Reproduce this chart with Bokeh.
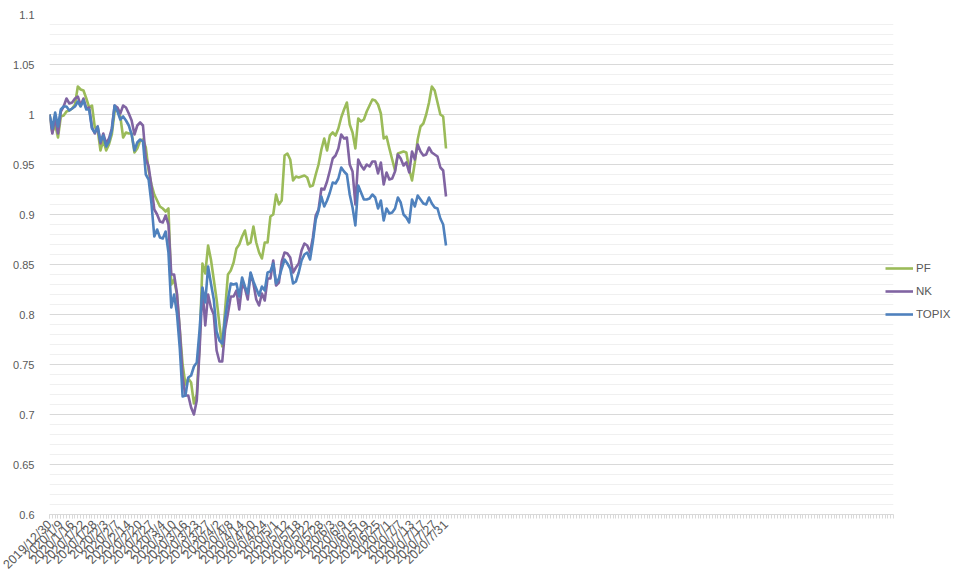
from bokeh.plotting import figure
from bokeh.models import Range1d, FixedTicker, Legend, LegendItem
from bokeh.embed import file_html
from bokeh.resources import INLINE

dates = [
    "2019/12/30",
    "2020/1/6", "2020/1/7", "2020/1/8", "2020/1/9", "2020/1/10", "2020/1/14", "2020/1/15",
    "2020/1/16", "2020/1/17", "2020/1/20", "2020/1/21", "2020/1/22", "2020/1/23", "2020/1/24",
    "2020/1/27", "2020/1/28", "2020/1/29", "2020/1/30", "2020/1/31",
    "2020/2/3", "2020/2/4", "2020/2/5", "2020/2/6", "2020/2/7", "2020/2/10", "2020/2/12",
    "2020/2/13", "2020/2/14", "2020/2/17", "2020/2/18", "2020/2/19", "2020/2/20", "2020/2/21",
    "2020/2/25", "2020/2/26", "2020/2/27", "2020/2/28",
    "2020/3/2", "2020/3/3", "2020/3/4", "2020/3/5", "2020/3/6", "2020/3/9", "2020/3/10",
    "2020/3/11", "2020/3/12", "2020/3/13", "2020/3/16", "2020/3/17", "2020/3/18", "2020/3/19",
    "2020/3/23", "2020/3/24", "2020/3/25", "2020/3/26", "2020/3/27", "2020/3/30", "2020/3/31",
    "2020/4/1", "2020/4/2", "2020/4/3", "2020/4/6", "2020/4/7", "2020/4/8", "2020/4/9",
    "2020/4/10", "2020/4/13", "2020/4/14", "2020/4/15", "2020/4/16", "2020/4/17", "2020/4/20",
    "2020/4/21", "2020/4/22", "2020/4/23", "2020/4/24", "2020/4/27", "2020/4/28", "2020/4/30",
    "2020/5/1", "2020/5/7", "2020/5/8", "2020/5/11", "2020/5/12", "2020/5/13", "2020/5/14",
    "2020/5/15", "2020/5/18", "2020/5/19", "2020/5/20", "2020/5/21", "2020/5/22", "2020/5/25",
    "2020/5/26", "2020/5/27", "2020/5/28", "2020/5/29",
    "2020/6/1", "2020/6/2", "2020/6/3", "2020/6/4", "2020/6/5", "2020/6/8", "2020/6/9",
    "2020/6/10", "2020/6/11", "2020/6/12", "2020/6/15", "2020/6/16", "2020/6/17", "2020/6/18",
    "2020/6/19", "2020/6/22", "2020/6/23", "2020/6/24", "2020/6/25", "2020/6/26", "2020/6/29",
    "2020/6/30",
    "2020/7/1", "2020/7/2", "2020/7/3", "2020/7/6", "2020/7/7", "2020/7/8", "2020/7/9",
    "2020/7/10", "2020/7/13", "2020/7/14", "2020/7/15", "2020/7/16", "2020/7/17", "2020/7/20",
    "2020/7/21", "2020/7/22", "2020/7/27", "2020/7/28", "2020/7/29", "2020/7/30", "2020/7/31",
]

pf = [
    1.000, 0.982, 0.990, 0.977, 0.998, 0.999, 1.003, 1.004, 1.006, 1.010,
    1.028, 1.025, 1.024, 1.016, 1.007, 1.009, 0.987, 0.985, 0.964, 0.974,
    0.964, 0.970, 0.980, 1.003, 1.005, 0.998, 0.977, 0.982, 0.981, 0.981,
    0.962, 0.966, 0.974, 0.975, 0.967, 0.944, 0.930, 0.920, 0.914, 0.908,
    0.906, 0.903, 0.906, 0.830, 0.835, 0.820, 0.785, 0.750, 0.730, 0.736,
    0.732, 0.711, 0.720, 0.770, 0.851, 0.841, 0.869, 0.855, 0.835, 0.815,
    0.790, 0.768, 0.805, 0.840, 0.844, 0.852, 0.866, 0.870, 0.878, 0.884,
    0.870, 0.872, 0.888, 0.872, 0.862, 0.856, 0.872, 0.872, 0.898, 0.900,
    0.920, 0.910, 0.914, 0.959, 0.961, 0.955, 0.934, 0.938, 0.937, 0.938,
    0.939, 0.937, 0.928, 0.929, 0.940, 0.950, 0.965, 0.976, 0.964, 0.979,
    0.982, 0.979, 0.986, 0.997, 1.005, 1.012, 0.990, 0.982, 0.966, 0.996,
    0.993, 0.995, 1.003, 1.009, 1.015, 1.014, 1.010, 1.001, 0.976, 0.978,
    0.966, 0.955, 0.944, 0.961, 0.962, 0.963, 0.962, 0.945, 0.934, 0.952,
    0.975, 0.988, 0.991, 1.000, 1.012, 1.028, 1.024, 1.012, 1.000, 0.998,
    0.966,
]

nk = [
    1.000, 0.981, 0.997, 0.981, 1.003, 1.008, 1.016, 1.011, 1.012, 1.016,
    1.018, 1.009, 1.016, 1.006, 1.007, 0.987, 0.981, 0.988, 0.971, 0.981,
    0.971, 0.976, 0.986, 1.009, 1.007, 1.001, 1.009, 1.007, 1.001, 0.994,
    0.980, 0.989, 0.992, 0.989, 0.956, 0.948, 0.928, 0.905, 0.900, 0.893,
    0.892, 0.899, 0.890, 0.840, 0.840, 0.821, 0.785, 0.737, 0.719, 0.719,
    0.707, 0.700, 0.714, 0.765, 0.826, 0.789, 0.820, 0.807, 0.800, 0.764,
    0.753, 0.753, 0.785, 0.801, 0.818, 0.818, 0.824, 0.805, 0.830, 0.826,
    0.815, 0.841, 0.831, 0.815, 0.809, 0.821, 0.814, 0.836, 0.836, 0.854,
    0.829, 0.832, 0.853, 0.862, 0.861, 0.857, 0.842, 0.847, 0.851, 0.864,
    0.871, 0.869, 0.862, 0.877, 0.899, 0.905, 0.926, 0.925, 0.933, 0.944,
    0.956, 0.959, 0.966, 0.980, 0.976, 0.977, 0.950, 0.943, 0.910, 0.955,
    0.949, 0.945, 0.950, 0.948, 0.953, 0.953, 0.941, 0.952, 0.930, 0.942,
    0.935, 0.936, 0.943, 0.960, 0.956, 0.949, 0.952, 0.942, 0.963, 0.955,
    0.970, 0.963, 0.959, 0.960, 0.967, 0.962, 0.960, 0.958, 0.947, 0.944,
    0.918,
]

topix = [
    1.000, 0.986, 1.002, 0.988, 1.005, 1.008, 1.008, 1.004, 1.006, 1.008,
    1.013, 1.008, 1.014, 1.005, 1.005, 0.986, 0.982, 0.988, 0.973, 0.979,
    0.968, 0.973, 0.984, 1.009, 1.003, 0.995, 0.998, 0.994, 0.989, 0.980,
    0.964, 0.972, 0.975, 0.973, 0.940, 0.935, 0.911, 0.878, 0.885, 0.877,
    0.876, 0.883, 0.862, 0.807, 0.820, 0.801, 0.766, 0.718, 0.719, 0.737,
    0.739, 0.748, 0.752, 0.785, 0.827, 0.812, 0.848, 0.831, 0.815, 0.783,
    0.774, 0.771, 0.796, 0.815, 0.831, 0.830, 0.831, 0.818, 0.837, 0.828,
    0.821, 0.842, 0.833, 0.826, 0.819, 0.828, 0.824, 0.842, 0.843, 0.851,
    0.831, 0.836, 0.846, 0.855, 0.851, 0.846, 0.831, 0.833, 0.842, 0.854,
    0.860, 0.862, 0.855, 0.873, 0.895, 0.904, 0.918, 0.908, 0.914, 0.922,
    0.932, 0.931, 0.936, 0.947, 0.943, 0.940, 0.920, 0.907, 0.889, 0.929,
    0.922, 0.915, 0.915, 0.916, 0.920, 0.917, 0.906, 0.914, 0.894, 0.906,
    0.901, 0.902, 0.906, 0.917, 0.912, 0.900, 0.897, 0.892, 0.915, 0.908,
    0.919, 0.915, 0.911, 0.910, 0.917, 0.911, 0.907, 0.906, 0.896, 0.890,
    0.869,
]

series_names = ["PF", "NK", "TOPIX"]
series_colors = ["#9BBB59", "#8064A2", "#4F81BD"]
y_ticks = [0.6, 0.65, 0.7, 0.75, 0.8, 0.85, 0.9, 0.95, 1.0, 1.05, 1.1]
y_labels = ["0.6", "0.65", "0.7", "0.75", "0.8", "0.85", "0.9", "0.95", "1", "1.05", "1.1"]
n_slots = 299  # category slots on the axis (blank ones after the data)

FONT = "Liberation Sans"
TXT = "#595959"

p = figure(frame_width=844, frame_height=500, output_backend="svg", toolbar_location=None,
           x_range=Range1d(0, n_slots - 1), y_range=Range1d(0.6, 1.1),
           min_border_left=49, min_border_right=0, min_border_top=14, min_border_bottom=62)
p.outline_line_color = None
p.background_fill_color = "white"
p.border_fill_color = "white"

xs = list(range(len(dates)))
renderers = []
for name, vals, col in zip(series_names, [pf, nk, topix], series_colors):
    r = p.line(xs, vals, line_color=col, line_width=2.6, line_join="round")
    renderers.append((name, r))

# x axis
xa = p.xaxis[0]
xa.ticker = FixedTicker(ticks=list(range(0, len(dates), 4)), minor_ticks=list(range(0, n_slots)))
xa.major_label_overrides = {i: dates[i] for i in range(0, len(dates), 4)}
xa.major_label_orientation = 0.785398
xa.major_label_text_font = FONT
xa.major_label_text_font_size = "12.5px"
xa.major_label_text_color = TXT
xa.major_label_standoff = 4
xa.axis_line_color = "#D9D9D9"
xa.major_tick_line_color = "#D9D9D9"
xa.minor_tick_line_color = "#D9D9D9"
xa.major_tick_out = 4
xa.major_tick_in = 0
xa.minor_tick_out = 4
xa.minor_tick_in = 0
p.xgrid.grid_line_color = None

# y axis
ya = p.yaxis[0]
ya.ticker = FixedTicker(ticks=y_ticks, minor_ticks=[round(0.6 + 0.01 * k, 2) for k in range(51)])
ya.major_label_overrides = {t: l for t, l in zip(y_ticks, y_labels)}
ya.major_label_text_font = FONT
ya.major_label_text_font_size = "11px"
ya.major_label_text_color = TXT
ya.major_label_standoff = 9
ya.axis_line_color = None
ya.major_tick_line_color = None
ya.minor_tick_line_color = None
p.ygrid.grid_line_color = "#D9D9D9"
p.ygrid.minor_grid_line_color = "#F0F0F0"

legend = Legend(items=[LegendItem(label=n, renderers=[r]) for n, r in renderers],
                location=(0, 0), orientation="vertical",
                padding=0, margin=0, spacing=3, glyph_width=28, glyph_height=20,
                label_height=20, label_standoff=3, label_width=30,
                label_text_font=FONT, label_text_font_size="11.5px", label_text_color=TXT,
                border_line_color=None, background_fill_alpha=0)
legend.location = (-8, 190)
p.add_layout(legend, "right")
p.min_border_right = 65

open("out.html", "w").write(file_html(p, INLINE))
